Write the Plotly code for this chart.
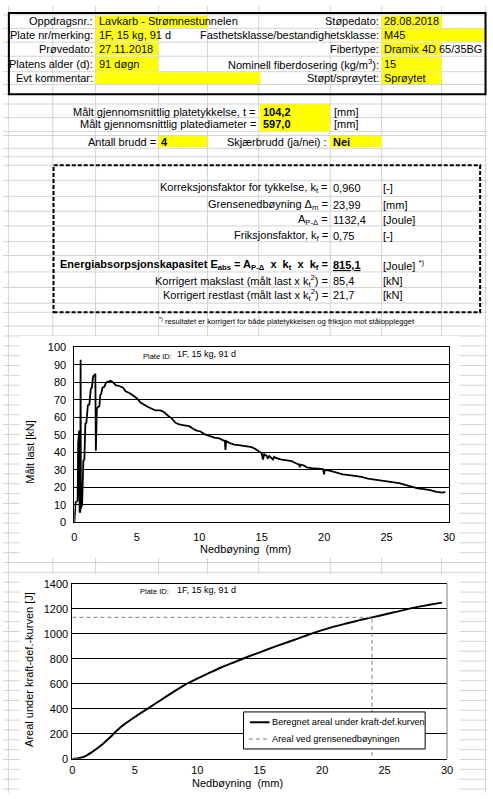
import plotly.graph_objects as go

W, H = 493, 799
FONT = "Liberation Sans, Arial, sans-serif"

# ---------------- data ----------------
header_left_labels = ["Oppdragsnr.:", "Plate nr/merking:", "Prøvedato:", "Platens alder (d):", "Evt kommentar:"]
header_left_values = ["Lavkarb - Strømnestunnelen", "1F, 15 kg, 91 d", "27.11.2018", "91 døgn", ""]
header_right_labels = ["Støpedato:", "Fasthetsklasse/bestandighetsklasse:", "Fibertype:",
                       "Nominell fiberdosering (kg/m<sup>3</sup>):", "Støpt/sprøytet:"]
header_right_values = ["28.08.2018", "M45", "Dramix 4D 65/35BG", "15", "Sprøytet"]

thickness_t = 104.2
diameter_d = 597.0
n_cracks = 4
shear_crack = "Nei"
k_t = 0.960
delta_m = 23.99
A_PD = 1132.4
k_f = 0.75
E_abs = 815.1
max_load_corr = 85.4
rest_load_corr = 21.7
plate_id = "1F, 15 kg, 91 d"

# Chart 1: load vs deflection
defl = [0.00, 0.05, 0.10, 0.20, 0.26, 0.30, 0.33, 0.39, 0.42, 0.47, 0.50, 0.52, 0.56, 0.62, 0.68, 0.72,
        0.80, 0.84, 0.88, 0.96, 1.02, 1.08, 1.20, 1.26, 1.32, 1.40, 1.44, 1.50, 1.60, 1.68, 1.72, 1.76,
        1.80, 1.90, 2.00, 2.08, 2.15, 2.25, 2.40, 2.55, 2.70, 2.90,
        3.10, 3.30, 3.60, 3.90, 4.10, 4.40, 4.70, 5.00, 5.30, 5.60, 5.90, 6.20, 6.50, 6.90, 7.20,
        7.50, 7.80, 8.10, 8.40, 8.80, 9.20, 9.50, 9.80, 10.10, 10.40, 10.80, 11.20, 11.60, 11.90,
        12.05, 12.10, 12.15, 12.40, 12.80, 13.30, 13.80, 14.20, 14.50, 14.80, 15.00, 15.10, 15.20,
        15.40, 15.50, 15.60, 15.80, 15.90, 16.00, 16.10, 16.50, 17.00, 17.40, 17.70, 17.90, 18.00,
        18.05, 18.10, 18.40, 18.60,
        19.00, 19.50, 19.90, 20.00, 20.05, 20.50, 21.00, 21.50, 22.00, 22.50, 23.00, 23.50, 24.00,
        24.50, 25.00, 25.50, 26.00, 26.50, 27.00, 27.50, 28.00, 28.50, 29.00, 29.50, 29.70]
load = [0.0, 10.5, 11.5, 12.0, 12.5, 45.0, 52.0, 52.5, 6.0, 6.0, 93.0, 8.0, 9.0, 10.0, 35.0, 35.5,
        36.0, 56.0, 56.5, 57.0, 67.0, 67.0, 67.5, 76.0, 76.5, 77.0, 83.0, 83.5, 84.0, 85.0, 41.0, 64.5,
        65.0, 66.0, 66.5, 73.0, 73.5, 77.0, 77.5, 80.0, 80.5, 81.0,
        80.0, 78.5, 78.0, 77.0, 75.0, 74.0, 72.5, 71.0, 68.5, 67.0, 66.0, 65.0, 64.0, 64.0, 63.0,
        61.0, 59.5, 57.0, 56.0, 55.5, 55.0, 53.5, 52.5, 52.0, 50.5, 49.5, 48.5, 48.0, 47.0,
        46.5, 41.5, 46.5, 45.5, 44.5, 44.0, 43.5, 43.0, 42.0, 40.5, 39.5, 36.0, 39.0,
        38.0, 36.5, 38.0, 37.0, 36.0, 37.5, 37.0, 36.0, 35.5, 35.0, 34.0, 33.5, 33.0,
        31.5, 33.0, 32.5, 31.5,
        31.0, 30.5, 30.5, 27.5, 30.0, 29.5, 28.5, 27.5, 27.0, 26.5, 26.0, 25.0, 24.5,
        24.0, 23.5, 23.0, 22.5, 21.5, 20.5, 19.5, 19.0, 18.5, 17.5, 17.0, 17.5]

# Chart 2: area under force-deflection curve
defl2 = [0.0, 0.5, 1.0, 1.5, 2.0, 2.5, 3.0, 3.5, 4.0, 5.0, 6.0, 7.0, 8.0, 9.0, 10.0, 11.0, 12.0,
         13.0, 14.0, 15.0, 16.0, 17.0, 18.0, 19.0, 20.0, 21.0, 22.0, 23.0, 24.0, 25.0, 26.0, 27.0,
         28.0, 29.0, 29.6]
area = [0, 5, 20, 50, 85, 125, 170, 220, 265, 335, 400, 465, 530, 592, 642, 690, 735,
        775, 815, 852, 890, 925, 960, 997, 1030, 1060, 1085, 1110, 1132, 1155, 1178, 1202,
        1222, 1240, 1250]

x_ticks_label = "Nedbøyning\u00a0\u00a0(mm)"
y1_title = "Målt last [kN]"
y2_title = "Areal under kraft-def.-kurven [J]"
legend_labels = ["Beregnet areal under kraft-def.kurven", "Areal ved grensenedbøyningen"]


def fmt(v, d):
    return f"{v:.{d}f}".replace(".", ",")


def px(x):
    return x / W


def py(y):
    return 1 - y / H


shapes = []
annotations = []

GRID = "#d4d4d4"
YEL = "#ffff00"


def hline(x0, x1, y, color=GRID, width=1, layer="below", dash=None):
    d = dict(type="line", xref="paper", yref="paper", x0=px(x0), x1=px(x1), y0=py(y), y1=py(y),
             line=dict(color=color, width=width), layer=layer)
    if dash:
        d["line"]["dash"] = dash
    shapes.append(d)


def vline(x, y0, y1, color=GRID, width=1, layer="below", dash=None):
    d = dict(type="line", xref="paper", yref="paper", x0=px(x), x1=px(x), y0=py(y0), y1=py(y1),
             line=dict(color=color, width=width), layer=layer)
    if dash:
        d["line"]["dash"] = dash
    shapes.append(d)


def rect(x0, y0, x1, y1, fill=None, line_color=None, width=0, layer="below", dash=None):
    d = dict(type="rect", xref="paper", yref="paper", x0=px(x0), x1=px(x1), y0=py(y1), y1=py(y0),
             layer=layer, line=dict(width=width, color=line_color or "rgba(0,0,0,0)"))
    if fill:
        d["fillcolor"] = fill
    if dash:
        d["line"]["dash"] = dash
    shapes.append(d)


def text(t, x, y, anchor="left", size=11, color="black", angle=0, yanchor="middle"):
    annotations.append(dict(text=t, x=px(x), y=py(y), xref="paper", yref="paper", showarrow=False,
                            xanchor=anchor, yanchor=yanchor, borderpad=0, textangle=angle,
                            font=dict(family=FONT, size=size, color=color)))


# ------------- spreadsheet grid -------------
cols = [5.5, 50.7, 94.3, 158.5, 208.3, 260.5, 333.3, 385.7, 446.7, 491.5]
rows = [9, 22.7, 36.7, 51, 66.7, 79.7, 89.5, 99.5, 113.3, 127.3, 131.5, 144.5, 153, 161.7, 177,
        193.3, 208.3, 223.3, 239.3, 253.3, 270, 285.7, 301.7, 311, 325, 335]
rows += [345 + 10 * i for i in range(46)]
for c in cols:
    vline(c, 0, H)
for r in rows:
    hline(0, W, r)

# white chart objects
rect(17, 335, 465, 560, fill="white")
rect(17, 577, 465, 799, fill="white")

# yellow cells
yellow = [(94.3, 10, 208.3, 22), (385.7, 10, 446.7, 22),
          (94.3, 23, 158.5, 36), (385.7, 23, 491, 36),
          (94.3, 37.3, 158.5, 50), (385.7, 37.3, 446.7, 50),
          (94.3, 51.7, 158.5, 66.5), (385.7, 51.7, 446.7, 66.5),
          (94.3, 67.3, 262.3, 79.3), (385.7, 67.3, 446.7, 79.3),
          (261.7, 99.5, 333.3, 127.3),
          (158.3, 131.7, 208.3, 143.5), (333.3, 131.7, 386, 143.5)]
for (a, b, c, d) in yellow:
    rect(a, b, c, d, fill=YEL)

# boxes
rect(6, 7, 491.5, 89.5, line_color="black", width=2, layer="above")
rect(51.5, 161.7, 486, 311, line_color="black", width=2, layer="above", dash="4px,2px")

# ------------- header text -------------
row_y = [15.7, 29.3, 43.3, 59.3, 73.3]
for i, yy in enumerate(row_y):
    text(header_left_labels[i], 93, yy, "right")
    if header_left_values[i]:
        text(header_left_values[i], 96.5, yy, "left")
    text(header_right_labels[i], 384.5, yy, "right")
    text(header_right_values[i], 387.5, yy, "left")

# ------------- measured values -------------
text("Målt gjennomsnittlig platetykkelse, t =", 259, 107.3, "right")
text("Målt gjennomsnittlig platediameter =", 259, 120.3, "right")
text(f"<b>{fmt(thickness_t, 1)}</b>", 264, 107.3)
text(f"<b>{fmt(diameter_d, 1)}</b>", 264, 120.3)
text("[mm]", 336, 107.3)
text("[mm]", 336, 120.3)
text("Antall brudd =", 156.5, 137.7, "right")
text(f"<b>{n_cracks}</b>", 160, 137.7)
text("Skjærbrudd (ja/nei) :", 331.5, 137.7, "right")
text(f"<b>{shear_crack}</b>", 335.5, 137.7)

# ------------- results -------------
RX, VX, UX = 331.7, 335.5, 386.5
res = [
    (185.0, "Korreksjonsfaktor for tykkelse, k<sub>t</sub> =", fmt(k_t, 3), "[-]"),
    (201.7, "Grensenedbøyning Δ<sub>m</sub> =", fmt(delta_m, 2), "[mm]"),
    (217.7, "A<sub>P-Δ</sub> =", fmt(A_PD, 1), "[Joule]"),
    (233.3, "Friksjonsfaktor, k<sub>f</sub> =", fmt(k_f, 2), "[-]"),
    (279.3, "Korrigert makslast (målt last x k<sub>t</sub><sup>2</sup>) =", fmt(max_load_corr, 1), "[kN]"),
    (293.3, "Korrigert restlast (målt last x k<sub>t</sub><sup>2</sup>) =", fmt(rest_load_corr, 1), "[kN]"),
]
for yy, lab, val, unit in res:
    text(lab, RX, yy, "right")
    text(val, VX, yy)
    text(unit, UX, yy)
sp = "\u00a0"
text(f"<b>Energiabsorpsjonskapasitet E<sub>abs</sub> = A<sub>P-Δ</sub>{sp}{sp}x{sp}{sp}k<sub>t</sub>{sp}{sp}x{sp}{sp}k<sub>f</sub> =</b>",
     RX, 263.3, "right")
text(f"<b><u>{fmt(E_abs, 1)}</u></b>", VX, 263.3)
text("[Joule] <sup>*)</sup>", UX, 263.3)
text("<sup>*)</sup> resultatet er korrigert for både platetykkelsen og friksjon mot stålopplegget",
     158, 320, "left", size=7.6)

# ------------- chart annotations -------------
text("Plate ID:", 141.5, 355.5, "left", size=7.5)
text(plate_id, 176.5, 353.8, "left", size=9)
text(x_ticks_label, 247, 551.5, "center", size=11)
text(y1_title, 28, 452, "center", size=11, angle=-90)

text("Plate ID:", 139, 594.5, "left", size=7.5)
text(plate_id, 176.5, 593, "left", size=9)
text(x_ticks_label, 239, 789, "center", size=11)
text(y2_title, 26.5, 674, "center", size=11, angle=-90)

# chart 2 right border (gray)
vline(452.3, 586.7, 764.3, color="#808080", width=1, layer="above")

# custom legend box
rect(245, 716.7, 430, 754.3, fill="white", line_color="black", width=1, layer="above")
hline(251.5, 271.5, 727.2, color="black", width=2, layer="above")
hline(250.5, 271.5, 744.2, color="#808080", width=1, layer="above", dash="4px,3px")
text(legend_labels[0], 272.5, 727.2, "left", size=9.2)
text(legend_labels[1], 272.5, 744.2, "left", size=9.2)

# ------------- traces -------------
fig = go.Figure()
fig.add_trace(go.Scatter(x=defl, y=load, mode="lines", line=dict(color="black", width=1.8),
                         xaxis="x", yaxis="y", showlegend=False, name="Målt last"))
fig.add_trace(go.Scatter(x=defl2, y=area, mode="lines", line=dict(color="black", width=2, shape="spline", smoothing=0.6),
                         xaxis="x2", yaxis="y2", showlegend=False, name=legend_labels[0]))
fig.add_trace(go.Scatter(x=[0, delta_m, delta_m], y=[A_PD, A_PD, 0], mode="lines",
                         line=dict(color="#808080", width=1, dash="4px,3px"),
                         xaxis="x2", yaxis="y2", showlegend=False, name=legend_labels[1]))

tickfont = dict(family=FONT, size=11, color="black")
fig.update_layout(
    width=W, height=H, margin=dict(l=0, r=0, t=0, b=0),
    paper_bgcolor="white", plot_bgcolor="white", showlegend=False,
    xaxis=dict(domain=[px(72.7), px(454.3)], anchor="y", range=[0, 30], dtick=5, tick0=0,
               showgrid=False, zeroline=False, showline=True, linecolor="black", linewidth=1,
               mirror=True, ticks="", tickfont=tickfont, ticklabelstandoff=4, fixedrange=True),
    yaxis=dict(domain=[py(524.3), py(346.7)], anchor="x", range=[0, 100], dtick=10, tick0=0,
               showgrid=True, gridcolor="black", gridwidth=1, zeroline=False, showline=True,
               linecolor="black", linewidth=1, mirror=True, ticks="", tickfont=tickfont,
               ticklabelstandoff=5, fixedrange=True),
    xaxis2=dict(domain=[px(70.7), px(452.3)], anchor="y2", range=[0, 30], dtick=5, tick0=0,
                showgrid=False, zeroline=False, showline=True, linecolor="black", linewidth=1,
                mirror=True, ticks="", tickfont=tickfont, ticklabelstandoff=1, fixedrange=True),
    yaxis2=dict(domain=[py(764.3), py(586.7)], anchor="x2", range=[0, 1400], dtick=200, tick0=0,
                showgrid=True, gridcolor="black", gridwidth=1, zeroline=False, showline=True,
                linecolor="black", linewidth=1, mirror=False, ticks="", tickfont=tickfont,
                ticklabelstandoff=1, fixedrange=True),
    shapes=shapes, annotations=annotations,
)

fig.write_html("out.html")
